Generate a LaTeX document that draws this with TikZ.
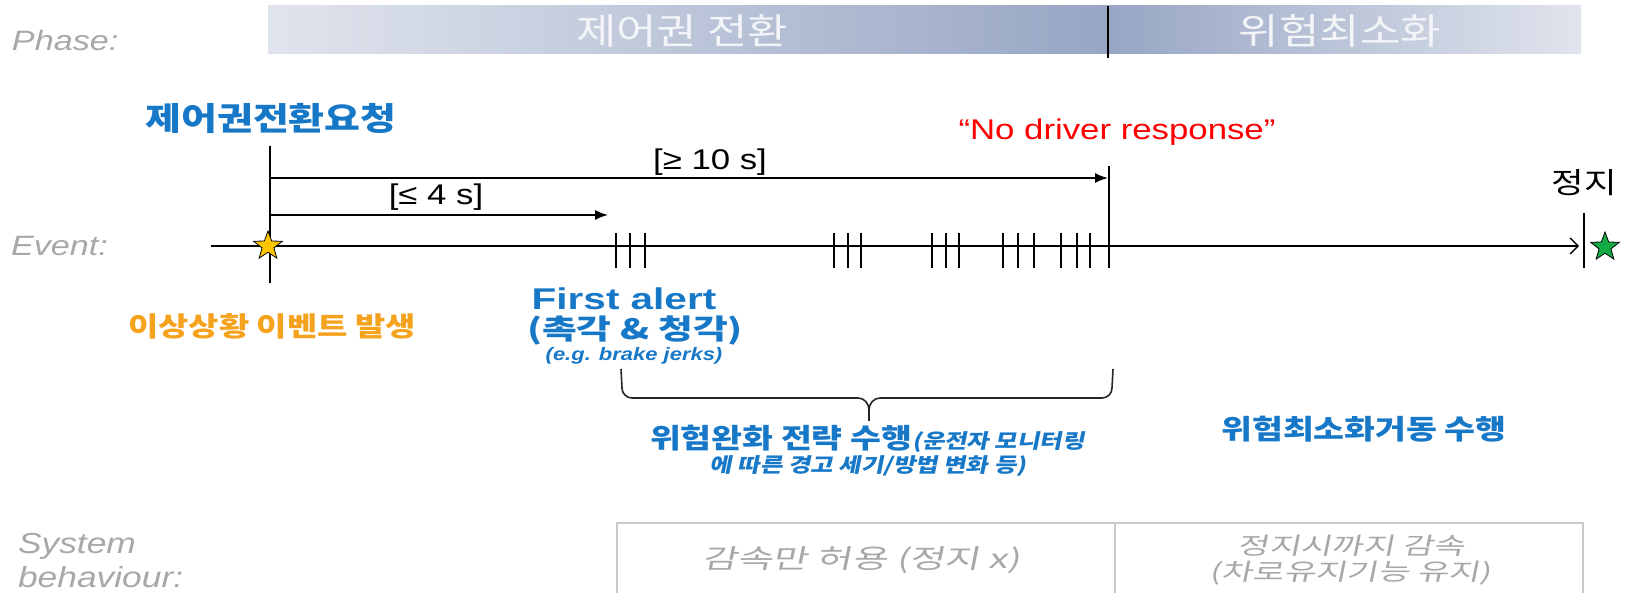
\documentclass[tikz,border=0pt]{standalone}
\usepackage{fontspec}
\setmainfont{Liberation Sans}[FakeStretch=1.22]
\newfontfamily\lsw{Liberation Sans}[FakeStretch=1.35]
\newfontfamily\kr{Noto Sans CJK KR}[FakeStretch=1.22]
\newfontfamily\krw{Noto Sans CJK KR}[FakeStretch=1.35]
\newfontfamily\kritw{Noto Sans CJK KR}[FakeStretch=1.45]
\usetikzlibrary{arrows.meta,shapes.geometric}
\definecolor{kblue}{RGB}{24,120,200}
\definecolor{korange}{RGB}{245,162,30}
\definecolor{kgray}{RGB}{168,168,168}
\definecolor{boxgray}{RGB}{200,200,200}
\definecolor{barlight}{RGB}{224,228,237}
\definecolor{bardark}{RGB}{152,166,196}
\definecolor{bartext}{RGB}{242,244,248}
\definecolor{kgreen}{RGB}{20,170,70}
\definecolor{kyellow}{RGB}{255,196,0}
\tikzset{
  txt/.style={inner sep=0pt, outer sep=0pt},
  lbl/.style={txt, text=kgray, font=\itshape\fontsize{28}{32}\selectfont},
  ln/.style={line width=1.6pt, black},
  tick/.style={line width=1.6pt, black},
  starshape/.style={star, star points=5, star point ratio=2.4, minimum size=30pt, inner sep=0pt, draw=black, line width=0.8pt},
  slantscope/.style={xslant=0.2},
}
\begin{document}
\begin{tikzpicture}[x=1pt,y=-1pt]
\useasboundingbox (0,0) rectangle (1631,593);
% Phase row
\node[lbl, anchor=west] (phase) at (12,40) {Phase:};
\shade[left color=barlight, right color=bardark] (268,6) rectangle (1108,54);
\shade[left color=bardark, right color=barlight] (1108,6) rectangle (1581,54);
\draw[line width=1.6pt] (1108,6) -- (1108,58);
\node[txt, text=bartext, font=\kr\fontsize{36}{40}\selectfont] (ph1) at (682,31) {제어권 전환};
\node[txt, text=bartext, font=\kr\fontsize{36}{40}\selectfont] (ph2) at (1340,31) {위험최소화};
% Event row
\node[lbl, anchor=west] (event) at (11,246) {Event:};
\coordinate (evs) at (211,246);
\coordinate (eve) at (1579,246);
\draw[ln, -{Straight Barb[length=8pt,width=16pt,line width=1.4pt]}] (evs) -- (eve);
% request line
\node[txt, text=kblue, font=\kr\bfseries\fontsize{32}{36}\selectfont] (req) at (271,118) {제어권전환요청};
\coordinate (rtop) at (270,146);
\coordinate (rbot) at (270,283);
\draw[ln] (rtop) -- (rbot);
\coordinate (a10s) at (270,178);
\coordinate (a10e) at (1108,178);
\draw[ln, -{Latex[length=13pt,width=10pt]}] (a10s) -- (a10e);
\node[txt, font=\fontsize{28.5}{32}\selectfont] (l10) at (710,162) {[≥ 10 s]};
\coordinate (a4s) at (270,215);
\coordinate (a4e) at (608,215);
\draw[ln, -{Latex[length=13pt,width=10pt]}] (a4s) -- (a4e);
\node[txt, font=\fontsize{28.5}{32}\selectfont] (l4) at (436,197) {[≤ 4 s]};
\node[starshape, fill=kyellow] (ystar) at (268,246) {};
% ticks
\foreach \x in {616,630,645, 834,848,861, 932,946,959, 1003,1018,1034, 1061,1077,1090}{
  \draw[tick] (\x,233) -- (\x,268);
}
\coordinate (ntop) at (1109,166);
\coordinate (nbot) at (1109,268);
\draw[ln] (ntop) -- (nbot);
\node[txt, text=red, font=\fontsize{28.5}{32}\selectfont] (nodrv) at (1117,132) {“No driver response”};
% stop
\coordinate (stop1) at (1584,213);
\coordinate (stop2) at (1584,268);
\draw[ln] (stop1) -- (stop2);
\node[starshape, fill=kgreen] (gstar) at (1605,247) {};
\node[txt, font=\kr\fontsize{29}{32}\selectfont] (stop) at (1584,183) {정지};
% labels below
\node[txt, text=korange, font=\kr\bfseries\fontsize{27}{30}\selectfont] (abn) at (272,326) {이상상황 이벤트 발생};
\node[txt, text=kblue, font=\lsw\bfseries\fontsize{30}{32}\selectfont] (fa1) at (624,299) {First alert};
\node[txt, text=kblue, font=\krw\bfseries\fontsize{28}{32}\selectfont] (fa2) at (635,331) {(촉각 \& 청각)};
\node[txt, text=kblue, font=\bfseries\itshape\fontsize{18}{20}\selectfont] (fa3) at (634,356) {(e.g. brake jerks)};
% brace
\draw[line width=1.6pt, black!85] (621,369) -- (622,388) to[out=-90,in=180] (632,398) -- (858,398) to[out=0,in=90] (869,410) -- (869,421);
\draw[line width=1.6pt, black!85] (1113,369) -- (1112,388) to[out=-90,in=0] (1102,398) -- (880,398) to[out=180,in=90] (869,410);
\node[txt, text=kblue, anchor=base west, font=\kr\bfseries\fontsize{27.5}{30}\selectfont] (mitb) at (650,449) {위험완화 전략 수행};
\begin{scope}[shift={(mitb.base east)}, slantscope]
\node[txt, text=kblue, anchor=base west, transform shape, font=\kr\bfseries\fontsize{20}{22}\selectfont] (mitp) at (0,0) {(운전자 모니터링};
\end{scope}
\begin{scope}[shift={(868,472)}, slantscope]
\node[txt, text=kblue, anchor=base, transform shape, font=\kr\bfseries\fontsize{20}{22}\selectfont] (mit2) at (0,0) {에 따른 경고 세기/방법 변화 등)};
\end{scope}
\node[txt, text=kblue, font=\kr\bfseries\fontsize{27.5}{30}\selectfont] (mrm) at (1364,429) {위험최소화거동 수행};
% system behaviour
\node[lbl, anchor=west, font=\itshape\fontsize{29}{32}\selectfont] (sys1) at (18,546) {System};
\node[lbl, anchor=west, font=\itshape\fontsize{29}{32}\selectfont] (sys2) at (18,577) {behaviour:};
\draw[boxgray, line width=2pt] (617,600) -- (617,523) -- (1583,523) -- (1583,600);
\draw[boxgray, line width=2pt] (1115,523) -- (1115,600);
\begin{scope}[shift={(863,560)}, slantscope]
\node[txt, text=kgray, transform shape, font=\kritw\fontsize{26.5}{30}\selectfont] (b1) at (0,0) {감속만 허용 (정지 x)};
\end{scope}
\begin{scope}[shift={(1353,546)}, slantscope]
\node[txt, text=kgray, transform shape, font=\kritw\fontsize{23.5}{28}\selectfont] (b2a) at (0,0) {정지시까지 감속};
\end{scope}
\begin{scope}[shift={(1352,573)}, slantscope]
\node[txt, text=kgray, transform shape, font=\kritw\fontsize{23.5}{28}\selectfont] (b2b) at (0,0) {(차로유지기능 유지)};
\end{scope}
\end{tikzpicture}
\end{document}
